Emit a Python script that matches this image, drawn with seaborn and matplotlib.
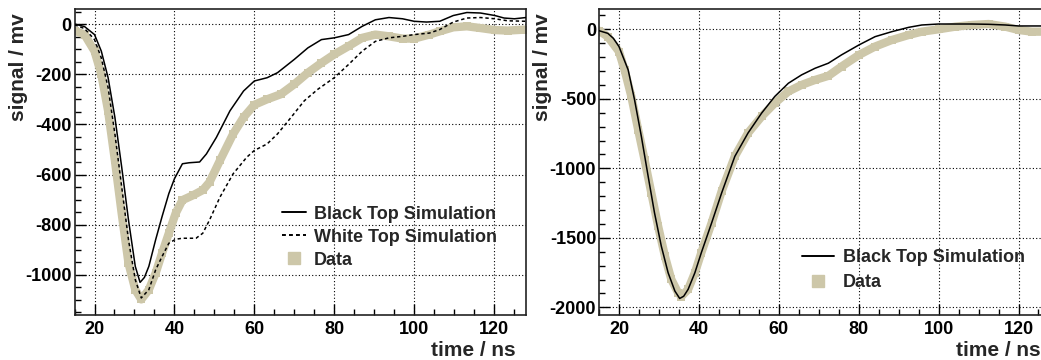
import numpy as np
import pandas as pd
import matplotlib
matplotlib.use("Agg")
import matplotlib.pyplot as plt
from matplotlib.lines import Line2D
from matplotlib.ticker import MultipleLocator
import seaborn as sns

# left panel: signal vs time (ns, mV)
black_l_t = [15, 17.5, 20, 21.7, 23.4, 25.1, 26.8, 28.5, 30.2, 31.4, 32.5, 33.6, 35.3, 36.9,
             38.6, 40, 42.0, 43.7, 46.3, 48.0, 50.5, 53.9, 57.3, 60, 63.2, 65.8, 70, 73.4,
             76.8, 80, 83.6, 87, 90.3, 93.7, 97.1, 100, 103.1, 106.4, 109.8, 113.2, 116.6,
             120.2, 122.5, 125.1, 128]
black_l_v = [0, -10, -42, -108, -214, -372, -570, -781, -966, -1030, -1010, -966, -860, -768,
             -676, -617, -557, -553, -550, -518, -452, -346, -267, -227, -214, -194, -141, -95,
             -62, -55, -42, -9, 17, 26, 21, 11, 8, 11, 34, 46, 44, 34, 24, 21, 26]

white_l_t = [15, 17.5, 20, 21.7, 23.4, 25.1, 26.8, 28.5, 30.2, 31.7, 33.6, 35.3, 36.9, 38.6,
             40.3, 42.0, 45.4, 47.1, 48.8, 51.4, 54.7, 58.1, 60, 63.2, 65.8, 69.2, 72.5, 75.9,
             80, 83.6, 87, 90.3, 93.7, 97.1, 100, 103.8, 106.4, 109.8, 113.2, 116.6, 120.2,
             123.4, 128]
white_l_v = [-3, -18, -62, -135, -253, -438, -649, -860, -1019, -1092, -1059, -980, -927, -874,
             -858, -854, -854, -834, -781, -690, -597, -531, -504, -478, -438, -372, -306, -260,
             -214, -161, -108, -69, -55, -49, -42, -36, -22, 8, 24, 26, 21, 13, 11]

data_l_t = [15, 17.5, 20, 21.7, 23.4, 25.1, 26.8, 28.5, 30.2, 31.7, 33.6, 35.3, 36.9, 38.6,
            40.3, 42.0, 44.6, 47.1, 48.8, 51.4, 54.7, 57.3, 60, 63.2, 66.6, 70, 73.4, 76.8,
            80, 83.6, 87, 90.3, 93.7, 97.1, 100, 103.8, 106.4, 109.8, 113.2, 116.6, 120.2,
            123.4, 128]
data_l_v = [-26, -42, -108, -200, -346, -544, -755, -953, -1059, -1098, -1059, -993, -914, -834,
            -755, -702, -683, -662, -630, -544, -438, -372, -322, -300, -280, -240, -194, -155,
            -121, -88, -55, -42, -49, -58, -58, -42, -29, -13, -9, -16, -24, -26, -22]

# right panel
black_r_t = [15, 17.2, 18.6, 20, 22.3, 23.9, 25.6, 27.3, 28.9, 30.6, 32.3, 34.0, 35.2, 36.2,
             37.3, 39.0, 40.6, 43.2, 45.7, 49.0, 52.3, 55.7, 59.0, 62.4, 65.7, 69.1, 72.4, 75.7,
             80.1, 84.1, 88.3, 92.5, 95.8, 100, 104.2, 108.3, 112.5, 116.7, 120, 128]
black_r_v = [-10, -29, -65, -124, -292, -507, -770, -1057, -1321, -1560, -1751, -1883, -1936,
             -1920, -1871, -1751, -1608, -1392, -1177, -914, -746, -603, -483, -388, -328, -280,
             -244, -184, -112, -53, -17, 14, 31, 38, 38, 38, 36, 31, 24, 24]

data_r_t = [15, 17.2, 20, 21.4, 23.1, 24.8, 26.4, 28.1, 29.8, 31.5, 33.1, 34.8, 35.6, 37.3,
            39.0, 40.6, 43.2, 45.7, 49.0, 52.3, 55.7, 59.0, 62.4, 65.7, 69.1, 72.4, 75.7,
            80.1, 84.1, 88.3, 92.5, 95.8, 100, 104.2, 108.3, 112.5, 116.7, 120, 123.4, 128]
data_r_v = [-10, -53, -160, -292, -483, -722, -938, -1177, -1416, -1632, -1799, -1895, -1922,
            -1871, -1751, -1608, -1392, -1165, -914, -746, -627, -531, -447, -400, -364, -335,
            -268, -184, -124, -77, -41, -17, 0, 19, 31, 38, 19, -5, -17, -17]

beige = "#cdc7a9"

sns.set_style("white")
plt.rcParams['font.family'] = ['Liberation Sans', 'DejaVu Sans']
plt.rcParams['font.weight'] = 'bold'
plt.rcParams['axes.labelweight'] = 'bold'
plt.rcParams['axes.unicode_minus'] = False

fig = plt.figure(figsize=(10.41, 3.6), dpi=100)
ax1 = fig.add_axes([0.0716, 0.125, 0.4337, 0.85])
ax2 = fig.add_axes([0.5754, 0.125, 0.4337, 0.85])


def draw_data(ax, t, v):
    df = pd.DataFrame({"t": t, "v": v})
    sns.lineplot(data=df, x="t", y="v", ax=ax, color=beige, lw=6, sort=False, zorder=2)
    sns.scatterplot(data=df, x="t", y="v", ax=ax, color=beige, marker="s", s=36,
                    linewidth=0, zorder=2)


def draw_line(ax, t, v, ls):
    df = pd.DataFrame({"t": t, "v": v})
    sns.lineplot(data=df, x="t", y="v", ax=ax, color="black", lw=1.1, ls=ls, sort=False, zorder=3)


draw_data(ax1, data_l_t, data_l_v)
draw_line(ax1, black_l_t, black_l_v, "-")
draw_line(ax1, white_l_t, white_l_v, (0, (2.2, 1.8)))

draw_data(ax2, data_r_t, data_r_v)
draw_line(ax2, black_r_t, black_r_v, "-")

ax1.set_ylim(-1160, 60)
ax1.yaxis.set_major_locator(MultipleLocator(200))
ax1.yaxis.set_minor_locator(MultipleLocator(50))
ax2.set_ylim(-2055, 146)
ax2.yaxis.set_major_locator(MultipleLocator(500))
ax2.yaxis.set_minor_locator(MultipleLocator(100))

for ax in (ax1, ax2):
    ax.set_xlim(15, 128)
    ax.xaxis.set_major_locator(MultipleLocator(20))
    ax.xaxis.set_minor_locator(MultipleLocator(5))
    ax.grid(True, which="major", color="black", ls=(0, (1, 2)), lw=0.8)
    ax.tick_params(which="both", direction="in", top=False, right=False, left=True,
                   bottom=True, colors="black", labelsize=13)
    ax.tick_params(which="major", length=8, width=1)
    ax.tick_params(which="minor", length=4, width=1)
    ax.tick_params(axis="x", pad=4)
    ax.tick_params(axis="y", pad=2)
    for lab in ax.get_xticklabels() + ax.get_yticklabels():
        lab.set_fontweight("bold")
    for s in ax.spines.values():
        s.set_color("#222222")
        s.set_linewidth(1.2)
    ax.set_xlabel("time / ns", fontsize=15, loc="right")
    ax.set_ylabel("signal / mv", fontsize=15, loc="top")
    ax.xaxis.set_label_coords(0.978, -0.086)
    ax.yaxis.set_label_coords(-0.104, 0.985)

sq = Line2D([], [], color=beige, marker="s", ls="none", markersize=8)
h1 = [Line2D([], [], color="black", lw=1.4),
      Line2D([], [], color="black", lw=1.4, ls=(0, (2, 1.6))), sq]
ax1.legend(h1, ["Black Top Simulation", "White Top Simulation", "Data"],
           loc="upper left", bbox_to_anchor=(0.46, 0.357), frameon=False, borderpad=0,
           borderaxespad=0, handlelength=1.3, handletextpad=0.45, labelspacing=0.33,
           prop={"weight": "bold", "size": 13})
ax2.legend([Line2D([], [], color="black", lw=1.4), sq], ["Black Top Simulation", "Data"],
           loc="upper left", bbox_to_anchor=(0.45, 0.215), frameon=False, borderpad=0,
           borderaxespad=0, handlelength=1.75, handletextpad=0.5, labelspacing=0.45,
           prop={"weight": "bold", "size": 13})

fig.savefig("out.png", dpi=100)
